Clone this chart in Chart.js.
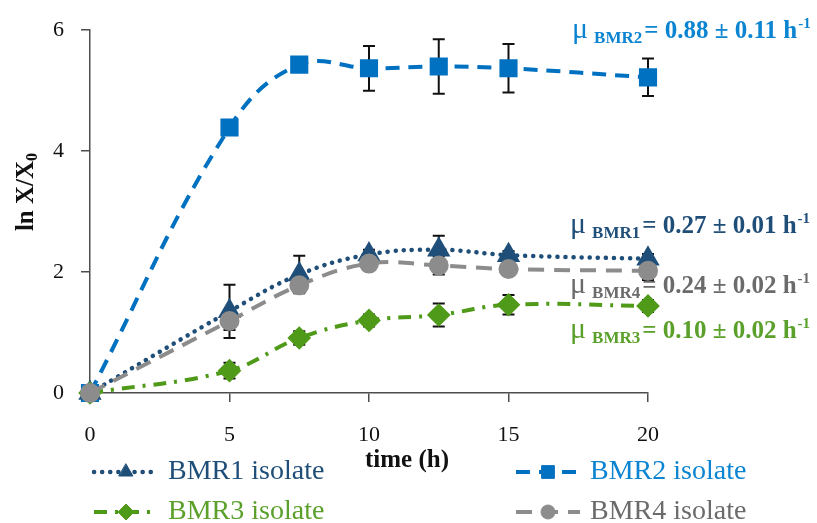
<!DOCTYPE html>
<html>
<head>
<meta charset="utf-8">
<script src="https://cdn.jsdelivr.net/npm/chart.js@4.4.1/dist/chart.umd.min.js"></script>
<style>
  html, body { margin: 0; padding: 0; background: #fff; }
  #wrap { width: 817px; height: 523px; }
</style>
</head>
<body>
<div id="wrap"><canvas id="grafico" width="817" height="523"></canvas></div>
<script>
// =========================================
// DADOS
// =========================================
const tempos = [0, 5, 7.5, 10, 12.5, 15, 20];

const bmr1 = [0, 1.35, 1.96, 2.29, 2.37, 2.28, 2.22];
const bmr2 = [0, 4.39, 5.43, 5.37, 5.40, 5.37, 5.22];
const bmr3 = [0, 0.37, 0.91, 1.20, 1.29, 1.46, 1.44];
const bmr4 = [0, 1.19, 1.78, 2.14, 2.11, 2.05, 2.02];

// desvios (barras de erro)
const erro1 = [0, 0.44, 0.31, 0.08, 0.23, 0.07, 0.08];
const erro2 = [0, 0.03, 0.03, 0.37, 0.45, 0.40, 0.31];
const erro3 = [0, 0.13, 0.11, 0.10, 0.19, 0.16, 0.10];
const erro4 = [0, 0.15, 0.11, 0.08, 0.15, 0.06, 0.15];

const xTicks = [0, 5, 10, 15, 20];
const yTicks = [0, 2, 4, 6];

const nomes = ["BMR1 isolate", "BMR2 isolate", "BMR3 isolate", "BMR4 isolate"];
const siglas = ["BMR1", "BMR2", "BMR3", "BMR4"];
const taxas = ["0.27 ± 0.01", "0.88 ± 0.11", "0.10 ± 0.02", "0.24 ± 0.02"];

// =========================================
// ESTILOS
// =========================================
const FONTE = '"Liberation Serif", "Times New Roman", serif';
const EIXO = "#4d4d4d";

const coresLinha = ["#1f4e79", "#0070c0", "#4f9a19", "#8c8c8c"];
const coresTexto = ["#1f4e79", "#0b84d1", "#5aa02a", "#6b6b6b"];

function pontos(valores) {
    return tempos.map((t, i) => ({ x: t, y: valores[i] }));
}

const datasets = [
    {
        label: nomes[0], data: pontos(bmr1), erros: erro1,
        borderColor: coresLinha[0], backgroundColor: coresLinha[0],
        borderWidth: 4.5, borderDash: [0.1, 8], borderCapStyle: "round",
        pointStyle: "triangle", pointRadius: 9, order: 2
    },
    {
        label: nomes[1], data: pontos(bmr2), erros: erro2,
        borderColor: coresLinha[1], backgroundColor: coresLinha[1],
        borderWidth: 4, borderDash: [14, 9],
        pointStyle: "rect", pointRadius: 10, order: 3
    },
    {
        label: nomes[2], data: pontos(bmr3), erros: erro3,
        borderColor: coresLinha[2], backgroundColor: coresLinha[2],
        borderWidth: 4, borderDash: [13, 8, 3, 8],
        pointStyle: "rectRot", pointRadius: 9, order: 1
    },
    {
        label: nomes[3], data: pontos(bmr4), erros: erro4,
        borderColor: coresLinha[3], backgroundColor: coresLinha[3],
        borderWidth: 4, borderDash: [16, 10],
        pointStyle: "circle", pointRadius: 8, order: 0
    }
];

// =========================================
// PLUGIN: BARRAS DE ERRO
// =========================================
const barrasErro = {
    id: "barrasErro",
    beforeDatasetsDraw(chart) {
        const ctx = chart.ctx;
        const sx = chart.scales.x, sy = chart.scales.y;
        ctx.save();
        ctx.strokeStyle = "#111";
        ctx.lineWidth = 2;
        chart.data.datasets.forEach(ds => {
            ds.erros.forEach((e, i) => {
                if (!e) return;
                const px = sx.getPixelForValue(ds.data[i].x);
                const y1 = sy.getPixelForValue(ds.data[i].y + e);
                const y2 = sy.getPixelForValue(ds.data[i].y - e);
                ctx.beginPath();
                ctx.moveTo(px, y1); ctx.lineTo(px, y2);
                ctx.moveTo(px - 6, y1); ctx.lineTo(px + 6, y1);
                ctx.moveTo(px - 6, y2); ctx.lineTo(px + 6, y2);
                ctx.stroke();
            });
        });
        ctx.restore();
    }
};

// =========================================
// PLUGIN: TITULOS, TAXAS E LEGENDA
// =========================================
function desenhaTaxa(ctx, x, base, sigla, valor, cor) {
    ctx.fillStyle = cor;
    ctx.textBaseline = "alphabetic";
    ctx.textAlign = "left";
    ctx.font = "30px " + FONTE;
    ctx.fillText("μ", x, base);
    x += ctx.measureText("μ").width + 6;
    ctx.font = "bold 17px " + FONTE;
    ctx.fillText(sigla, x, base + 5);
    x += ctx.measureText(sigla).width + 2;
    ctx.font = "bold 25px " + FONTE;
    const txt = "= " + valor + " h";
    ctx.fillText(txt, x, base);
    x += ctx.measureText(txt).width + 1;
    ctx.font = "bold 15px " + FONTE;
    ctx.fillText("-1", x, base - 10);
}

const extras = {
    id: "extras",
    afterDraw(chart) {
        const ctx = chart.ctx;
        ctx.save();

        // titulo do eixo y
        ctx.fillStyle = "#111";
        ctx.translate(27, 192);
        ctx.rotate(-Math.PI / 2);
        ctx.textBaseline = "middle";
        ctx.font = "bold 25px " + FONTE;
        const t1 = "ln X/X";
        const w1 = ctx.measureText(t1).width;
        ctx.font = "bold 16px " + FONTE;
        const w2 = ctx.measureText("0").width;
        const x0 = -(w1 + w2) / 2;
        ctx.font = "bold 25px " + FONTE;
        ctx.textAlign = "left";
        ctx.fillText(t1, x0, 0);
        ctx.font = "bold 16px " + FONTE;
        ctx.fillText("0", x0 + w1, 6);
        ctx.setTransform(1, 0, 0, 1, 0, 0);

        // titulo do eixo x
        ctx.textAlign = "center";
        ctx.textBaseline = "alphabetic";
        ctx.font = "bold 25px " + FONTE;
        ctx.fillText("time (h)", 407, 467);

        // taxas de crescimento
        const base = [233, 38, 338, 293];
        const xs = [570, 572, 570, 570];
        for (let i = 0; i < 4; i++) {
            desenhaTaxa(ctx, xs[i], base[i], siglas[i], taxas[i], coresTexto[i]);
        }

        // legenda
        const posLeg = [[94, 472], [516, 472], [94, 512], [516, 512]];
        chart.data.datasets.forEach((ds, i) => {
            const [lx, ly] = posLeg[i];
            ctx.save();
            ctx.strokeStyle = ds.borderColor;
            ctx.fillStyle = ds.backgroundColor;
            ctx.lineWidth = ds.borderWidth;
            ctx.lineCap = ds.borderCapStyle || "butt";
            ctx.setLineDash(ds.borderDash);
            ctx.beginPath();
            ctx.moveTo(lx, ly);
            ctx.lineTo(lx + 64, ly);
            ctx.stroke();
            ctx.setLineDash([]);
            ctx.lineWidth = 1;
            Chart.helpers.drawPoint(ctx, {
                pointStyle: ds.pointStyle, radius: ds.pointRadius - 1,
                rotation: 0, borderWidth: 1
            }, lx + 32, ly);
            ctx.restore();

            ctx.fillStyle = coresTexto[i];
            ctx.textAlign = "left";
            ctx.textBaseline = "middle";
            ctx.font = "28px " + FONTE;
            ctx.fillText(nomes[i], lx + 74, ly);
        });

        ctx.restore();
    }
};

// =========================================
// GRAFICO
// =========================================
window.addEventListener("DOMContentLoaded", () => {
    const el = document.getElementById("grafico");

    new Chart(el, {
        type: "line",
        data: { datasets: datasets },
        options: {
            responsive: false,
            devicePixelRatio: 1,
            animation: false,
            layout: { padding: { top: 24, right: 169, left: 0, bottom: 0 } },
            datasets: { line: { clip: false } },
            elements: {
                line: { tension: 0.4, fill: false },
                point: { borderWidth: 1, hoverRadius: 9 }
            },
            plugins: {
                legend: { display: false },
                tooltip: { enabled: false }
            },
            scales: {
                x: {
                    type: "linear",
                    min: 0, max: 20,
                    afterBuildTicks: s => { s.ticks = xTicks.map(v => ({ value: v })); },
                    afterFit: s => { s.height = 130; },
                    ticks: { color: "#111", padding: 20, font: { family: FONTE, size: 22 } },
                    grid: { drawOnChartArea: false, drawTicks: true, tickLength: 9, color: EIXO, lineWidth: 1.5 },
                    border: { display: true, color: EIXO, width: 1.5 }
                },
                y: {
                    min: 0, max: 6,
                    afterBuildTicks: s => { s.ticks = yTicks.map(v => ({ value: v })); },
                    afterFit: s => { s.width = 90; },
                    ticks: { color: "#111", padding: 17, font: { family: FONTE, size: 22 } },
                    grid: { drawOnChartArea: false, drawTicks: true, tickLength: 9, color: EIXO, lineWidth: 1.5 },
                    border: { display: true, color: EIXO, width: 1.5 }
                }
            }
        },
        plugins: [barrasErro, extras]
    });
});
</script>
</body>
</html>
